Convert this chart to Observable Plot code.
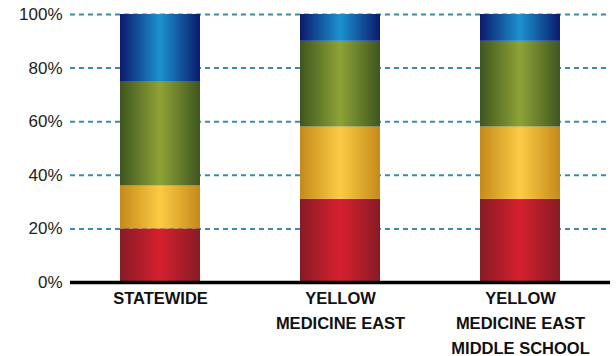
<!DOCTYPE html>
<html>
<head>
<meta charset="utf-8">
<script src="https://cdn.jsdelivr.net/npm/d3@7"></script>
<script src="https://cdn.jsdelivr.net/npm/@observablehq/plot@0.6"></script>
<style>
  html, body { margin: 0; padding: 0; background: #fff; }
  #chart svg { display: block; }
</style>
</head>
<body>
<div id="chart"></div>
<script>
// ---- Data ----
const categories = ["STATEWIDE", "YELLOW MEDICINE EAST", "YELLOW MEDICINE EAST MIDDLE SCHOOL"];
const tickLabels = ["STATEWIDE", "YELLOW\nMEDICINE EAST", "YELLOW\nMEDICINE EAST\nMIDDLE SCHOOL"];
const levels = ["Level 1", "Level 2", "Level 3", "Level 4"];
const level1 = [20, 31, 31];
const level2 = [16, 27, 27];
const level3 = [39, 32, 32];
const level4 = [25, 10, 10];
const yTicks = [0, 20, 40, 60, 80, 100];

const seriesValues = [level1, level2, level3, level4];
const rows = [];
levels.forEach((lv, i) => {
  categories.forEach((c, j) => rows.push({category: c, level: lv, value: seriesValues[i][j]}));
});

// gradient definitions: [edge, center]
const gradients = [
  ["#861b25", "#d6202f"],
  ["#c48a1a", "#fccb45"],
  ["#3e5620", "#8ea336"],
  ["#0b1a6c", "#1c92cf"]
];

const chart = Plot.plot({
  width: 616,
  height: 356,
  marginLeft: 70,
  marginRight: 6,
  marginTop: 14,
  marginBottom: 74,
  style: {fontFamily: "'Liberation Sans', Arial, sans-serif", background: "#fff"},
  x: {domain: categories, paddingInner: 0.556, paddingOuter: 0.278, label: null},
  y: {domain: [0, 100], label: null},
  color: {domain: levels, range: gradients.map((g, i) => `url(#grad${i})`)},
  marks: [
    Plot.gridY(yTicks.filter(d => d > 0), {stroke: "#3f8aa5", strokeOpacity: 1, strokeWidth: 2, strokeDasharray: "5,4"}),
    Plot.barY(rows, Plot.stackY({x: "category", y: "value", fill: "level", order: null})),
    Plot.ruleY([0], {stroke: "#000", strokeWidth: 3.5}),
    Plot.axisY({ticks: yTicks, tickSize: 0, tickPadding: 8, tickFormat: d => d + "%", fontSize: 17, fill: "#222", label: null}),
    Plot.axisX({tickSize: 0, tickPadding: 4, tickFormat: (d) => tickLabels[categories.indexOf(d)], fontSize: 16.5, fontWeight: "bold", fill: "#111", lineHeight: 1.5, label: null})
  ]
});

// add gradient defs
const svg = d3.select(chart);
const defs = svg.insert("defs", ":first-child");
gradients.forEach((g, i) => {
  const lg = defs.append("linearGradient").attr("id", `grad${i}`).attr("x1", "0").attr("x2", "1").attr("y1", "0").attr("y2", "0");
  lg.append("stop").attr("offset", "0%").attr("stop-color", g[0]);
  lg.append("stop").attr("offset", "50%").attr("stop-color", g[1]);
  lg.append("stop").attr("offset", "100%").attr("stop-color", g[0]);
});

document.getElementById("chart").appendChild(chart);
</script>
</body>
</html>
